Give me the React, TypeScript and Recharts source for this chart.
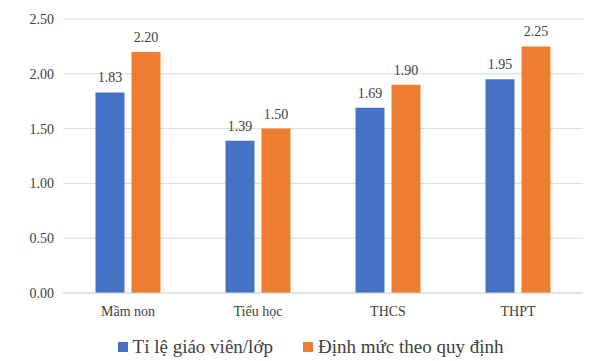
import React from "react";
import { BarChart, Bar, XAxis, YAxis, CartesianGrid, Legend, LabelList } from "recharts";

const categories = ["Mầm non", "Tiểu học", "THCS", "THPT"];
const ratioValues = [1.83, 1.39, 1.69, 1.95];
const normValues = [2.2, 1.5, 1.9, 2.25];
const yTicks = [0, 0.5, 1, 1.5, 2, 2.5];
const seriesNames = ["Tỉ lệ giáo viên/lớp", "Định mức theo quy định"];
const colors = ["#4472C4", "#ED7D31"];

const data = categories.map((c, i) => ({ name: c, ratio: ratioValues[i], norm: normValues[i] }));

const FONT = "Liberation Serif";

const LegendContent = () => (
  <div style={{ display: "flex", justifyContent: "center", alignItems: "center", fontFamily: FONT, fontSize: 19, color: "#404040" }}>
    {seriesNames.map((n, i) => (
      <div key={n} style={{ display: "flex", alignItems: "center", marginRight: i === 0 ? 30 : 0 }}>
        <span style={{ display: "inline-block", width: 10, height: 10, background: colors[i], marginRight: 5 }} />
        <span>{n}</span>
      </div>
    ))}
  </div>
);

export default function App() {
  return (
    <div style={{ position: "fixed", left: 0, top: 0, width: 600, height: 361, background: "#fff", fontFamily: FONT }}>
      <BarChart width={600} height={361} data={data} margin={{ top: 19, right: 17, bottom: 0, left: 0 }} barCategoryGap="25%" barGap={7} style={{ fontFamily: FONT }}>
        <CartesianGrid vertical={false} stroke="#D9D9D9" />
        <XAxis
          dataKey="name"
          axisLine={{ stroke: "#D9D9D9" }}
          tickLine={false}
          tickMargin={7}
          height={46}
          tick={{ fontFamily: FONT, fontSize: 14, fill: "#404040" }}
        />
        <YAxis
          domain={[0, 2.5]}
          ticks={yTicks}
          tickFormatter={(v: number) => v.toFixed(2)}
          axisLine={false}
          tickLine={false}
          tickMargin={3}
          width={63}
          tick={{ fontFamily: FONT, fontSize: 14, fill: "#404040" }}
        />
        <Legend verticalAlign="bottom" content={<LegendContent />} wrapperStyle={{ bottom: 3, left: 38, width: 545 }} />
        <Bar dataKey="ratio" fill={colors[0]} isAnimationActive={false}>
          <LabelList dataKey="ratio" position="top" offset={10} formatter={(v: number) => v.toFixed(2)} style={{ fontFamily: FONT, fontSize: 14, fill: "#404040" }} />
        </Bar>
        <Bar dataKey="norm" fill={colors[1]} isAnimationActive={false}>
          <LabelList dataKey="norm" position="top" offset={10} formatter={(v: number) => v.toFixed(2)} style={{ fontFamily: FONT, fontSize: 14, fill: "#404040" }} />
        </Bar>
      </BarChart>
    </div>
  );
}
